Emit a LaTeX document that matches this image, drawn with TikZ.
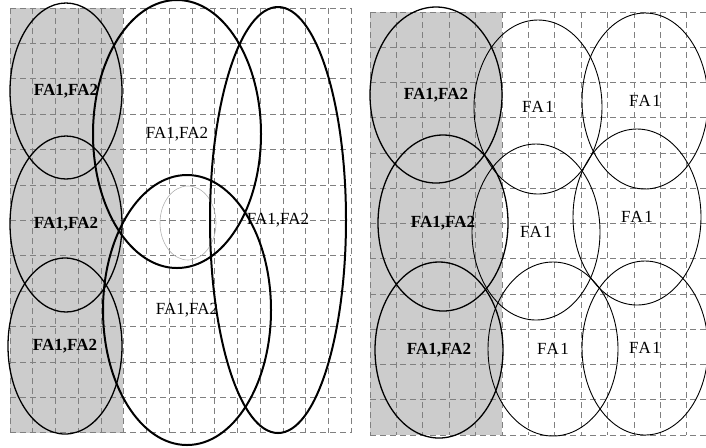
\documentclass[tikz,border=0pt]{standalone}
\usepackage{fontspec}
\setmainfont{Liberation Serif}
\usetikzlibrary{shapes.geometric}

\begin{document}
\begin{tikzpicture}[x=0.5pt, y=-0.5pt,
  zone/.style={fill=black!20, draw=none},
  gline/.style={draw=black!50, densely dashed, line width=0.35pt},
  cov/.style={ellipse, draw, line width=0.45pt, inner sep=0pt,
              font=\fontsize{8.5}{10}\selectfont\addfontfeature{LetterSpace=8}},
  covbold/.style={cov, line width=0.65pt, font=\fontsize{8.5}{10}\selectfont\bfseries},
  big/.style={cov, line width=1pt, font=\fontsize{8.5}{10}\selectfont},
  ghost/.style={draw=black!30, line width=0.3pt}
]
\useasboundingbox (0,0) rectangle (706,447);

% Shaded columns
\fill[zone] (10,8) rectangle (123,433);
\fill[zone] (370,12) rectangle (502,435);

% Grids
\foreach \i in {0,...,15}
  \draw[gline] ({10+22.75*\i},8) -- ({10+22.75*\i},433);
\foreach \j in {0,...,12}
  \draw[gline] (10,{8+35.4*\j}) -- (351,{8+35.4*\j});
\foreach \i in {0,...,12}
  \draw[gline] ({370+26.4*\i},12) -- ({370+26.4*\i},435);
\foreach \j in {0,...,12}
  \draw[gline] (370,{12+35.25*\j}) -- (706,{12+35.25*\j});

% Left panel
\draw[ghost] (188,223) ellipse [x radius=28, y radius=37];
\node[covbold, minimum width=56pt, minimum height=88pt] (l1) at (66,91) {FA1,FA2};
\node[covbold, minimum width=56pt, minimum height=88pt] (l2) at (66,224) {FA1,FA2};
\node[covbold, minimum width=57pt, minimum height=88pt] (l3) at (65,346) {FA1,FA2};
\node[big, minimum width=84pt, minimum height=134pt] (m1) at (177,134) {FA1,FA2};
\node[big, minimum width=84pt, minimum height=135pt] (m2) at (187,310) {FA1,FA2};
\node[big, minimum width=68pt, minimum height=213pt] (r1) at (278,220) {FA1,FA2};

% Right panel
\node[covbold, minimum width=66pt, minimum height=88pt] (s1) at (436,95) {FA1,FA2};
\node[covbold, minimum width=65pt, minimum height=88pt] (s2) at (443,223) {FA1,FA2};
\node[covbold, minimum width=64pt, minimum height=88pt] (s3) at (439,350) {FA1,FA2};
\node[cov, minimum width=64pt, minimum height=87pt] (c1) at (538,107) {FA1};
\node[cov, minimum width=64pt, minimum height=88pt] (c2) at (536,232) {FA1};
\node[cov, minimum width=65pt, minimum height=87pt] (c3) at (553,349) {FA1};
\node[cov, minimum width=63pt, minimum height=88pt] (d1) at (645,101) {FA1};
\node[cov, minimum width=64pt, minimum height=88pt] (d2) at (637,217) {FA1};
\node[cov, minimum width=63pt, minimum height=87pt] (d3) at (645,348) {FA1};
\end{tikzpicture}
\end{document}
